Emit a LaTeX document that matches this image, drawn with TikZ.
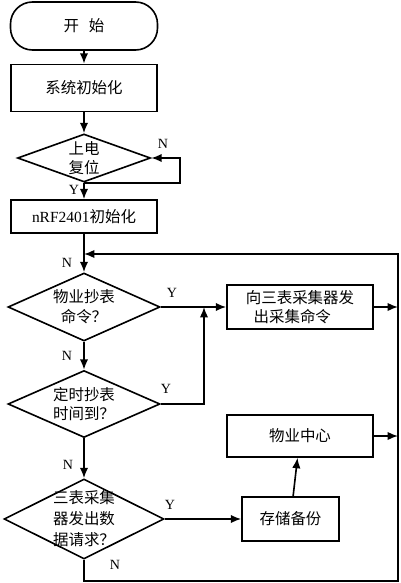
\documentclass[tikz,border=0pt]{standalone}
\usepackage{fontspec}
\setmainfont{Liberation Serif}
\newfontfamily\cjk{Noto Sans CJK SC}
\usetikzlibrary{shapes.geometric,arrows.meta}

\begin{document}
\begin{tikzpicture}[x=0.25mm, y=-0.25mm,
  line width=1.15pt,
  box/.style={draw, rectangle, font=\cjk\fontsize{11}{14}\selectfont, inner sep=0pt},
  term/.style={box, rounded corners=5.5mm, minimum width=36.75mm, minimum height=12mm},
  dia/.style={draw, diamond, inner sep=0pt},
  dtext/.style={font=\cjk\fontsize{11}{14}\selectfont, align=center},
  arr/.style={-{Latex[length=2.6mm,width=2.1mm]}},
  yn/.style={font=\fontsize{10}{12}\selectfont}]

% frame of the page
\useasboundingbox (0,0) rectangle (400,583);

% Controls
\def\rx{398}

% left column
\node[term] (start) at (84,26) {开\hspace{2.5mm}始};
\node[box, minimum width=36.5mm, minimum height=11.75mm] (init) at (84,88) {系统初始化};
\node[dia, minimum width=33.25mm, minimum height=12mm,
  label={[dtext]center:上电\\复位}] (d1) at (84,158) {};
\node[box, minimum width=36.5mm, minimum height=8.25mm] (nrf) at (84,216.5)
  {{\rmfamily nRF2401}初始化};
\node[dia, minimum width=38mm, minimum height=17mm,
  label={[dtext]center:物业抄表\\命令？}] (d2) at (84,307) {};
\node[dia, minimum width=38mm, minimum height=16.75mm,
  label={[dtext]center:定时抄表\\时间到？}] (d3) at (84,404) {};
\node[dia, minimum width=40mm, minimum height=20mm,
  label={[dtext, font=\cjk\fontsize{11}{15}\selectfont]center:三表采集\\器发出数\\据请求？}] (d4) at (84,519) {};

% right column
\node[box, minimum width=36.5mm, minimum height=11mm, align=left] (cmd) at (300,307)
  {向三表采集器发\\\hspace{0.5em}出采集命令};
\node[box, minimum width=36.5mm, minimum height=10.5mm] (centre) at (300,436) {物业中心};
\node[box, minimum width=24.25mm, minimum height=11mm] (store) at (290.5,519) {存储备份};

% corners of the lines
\coordinate (l1) at (180,158);
\coordinate (m1) at (204,307);
\coordinate (bl) at (84,581);
\coordinate (br) at (\rx,581);
\coordinate (tr) at (\rx,254);
\coordinate (join) at (84,254);

% main flow
\draw[arr] (start) -- (init);
\draw[arr] (init) -- (d1);
\draw[arr] (d1.south) -- (nrf);
\draw[arr] (d1.south) -| (l1) -- (d1.east);
\draw[arr] (nrf) -- (d2.north);
\draw[arr] (d2.south) -- (d3.north);
\draw[arr] (d3.south) -- (d4.north);

% yes branches
\draw[arr] (d2.east) -- (cmd.west);
\draw[arr] (d3.east) -| (m1);
\draw[arr] (d4.east) -- (store.west);
\draw[arr] (store) -- (centre);

% back to the top
\draw[arr] (cmd.east) -- (cmd.east -| tr);
\draw[arr] (centre.east) -- (centre.east -| tr);
\draw[arr] (d4.south) -- (bl) -- (br) -- (tr) -- (join);

% Labels
\node[yn] (y1) at (74,190) {Y};
\node[yn] (n1) at (163,144) {N};
\node[yn] (n2) at (67,263) {N};
\node[yn] (y2) at (172,293) {Y};
\node[yn] (n3) at (67,356) {N};
\node[yn] (y3) at (166,389) {Y};
\node[yn] (n4) at (68,465) {N};
\node[yn] (y4) at (170,505) {Y};
\node[yn] (n5) at (115,565) {N};

\end{tikzpicture}
\end{document}
